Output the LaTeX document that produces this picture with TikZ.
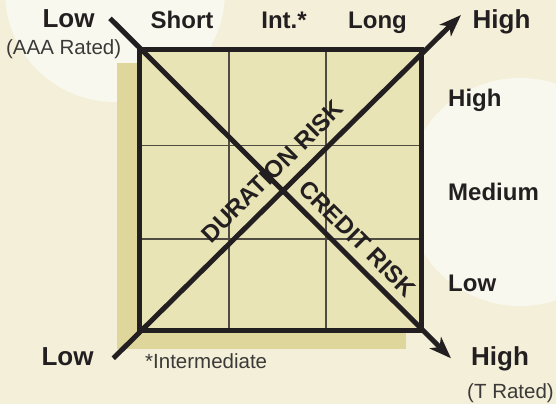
\documentclass[tikz,border=0pt]{standalone}
\usepackage{fontspec}
\setmainfont{Liberation Sans}
\usetikzlibrary{arrows.meta}
\definecolor{bg}{RGB}{243,239,216}
\definecolor{halo}{RGB}{249,248,239}
\definecolor{fillsq}{RGB}{232,228,182}
\definecolor{shadowc}{RGB}{222,214,154}
\definecolor{ink}{RGB}{35,31,32}
\definecolor{gridc}{RGB}{80,76,66}
\definecolor{softink}{RGB}{60,58,56}
\begin{document}
\begin{tikzpicture}[x=1pt,y=-1pt,
  big/.style={font=\fontsize{26}{26}\selectfont\bfseries, text=ink, inner sep=0pt},
  mid/.style={font=\fontsize{24}{24}\selectfont\bfseries, text=ink, inner sep=0pt},
  small/.style={font=\fontsize{20.5}{20.5}\selectfont, text=softink, inner sep=0pt},
  diagtext/.style={font=\fontsize{24}{24}\selectfont\bfseries, text=ink, inner sep=0pt},
  axisline/.style={line width=5pt, draw=ink},
  arr/.style={-{Stealth[length=22pt,width=16pt,inset=6pt]}},
  gridline/.style={draw=gridc, line width=1.3pt}]
\fill[bg] (0,0) rectangle (556,404);
\useasboundingbox (0,0) rectangle (556,404);
\begin{scope}
  \clip (0,0) rectangle (556,404);
  \fill[halo] (115,-8) circle[radius=110];
  \fill[halo] (520,192) circle[radius=114];
\end{scope}
% shadow
\fill[shadowc] (117,63) rectangle (406,349);
% square corners
\coordinate (tl) at (139.5,49.5);
\coordinate (tr) at (421,49.5);
\coordinate (br) at (421,330.5);
\coordinate (bl) at (139.5,330.5);
\fill[fillsq] (tl) rectangle (br);
% grid
\coordinate (v1t) at (229,49.5);  \coordinate (v1b) at (229,330.5);
\coordinate (v2t) at (326,49.5);  \coordinate (v2b) at (326,330.5);
\coordinate (h1l) at (139.5,145.7); \coordinate (h1r) at (421,145.7);
\coordinate (h2l) at (139.5,239);   \coordinate (h2r) at (421,239);
\draw[gridline] (v1t) -- (v1b);
\draw[gridline] (v2t) -- (v2b);
\draw[gridline] (h1l) -- (h1r);
\draw[gridline] (h2l) -- (h2r);
\draw[axisline] (tl) rectangle (br);
% diagonals
\coordinate (dstart) at (113.3,358.3);
\coordinate (dend) at (461,15);
\coordinate (cstart) at (110,18.3);
\coordinate (cend) at (451,358.3);
\draw[axisline, arr] (dstart) -- (dend);
\draw[axisline, arr] (cstart) -- (cend);
% diagonal labels
\node[diagtext, rotate=45] (dur) at (272,171.5) {DURATION RISK};
\node[diagtext, rotate=-45] (cred) at (357.5,238.5) {CREDIT RISK};
% labels
\node[big, anchor=base] (lowtl) at (68.5,27.5) {Low};
\node[small, anchor=base] (aaa) at (63.7,55) {(AAA Rated)};
\node[mid, anchor=base] (short) at (182,28.3) {Short};
\node[mid, anchor=base] (int) at (284,28.3) {Int.*};
\node[mid, anchor=base] (long) at (377.5,28.3) {Long};
\node[big, anchor=base] (hightr) at (501.5,29) {High};
\node[mid, anchor=base west] (rh) at (448,106.7) {High};
\node[mid, anchor=base west] (rm) at (448,200) {Medium};
\node[mid, anchor=base west] (rl) at (448,291.7) {Low};
\node[big, anchor=base] (lowbl) at (67.5,365) {Low};
\node[small, anchor=base west] (inter) at (145,368.3) {*Intermediate};
\node[big, anchor=base] (highbr) at (500,365) {High};
\node[small, anchor=base] (trated) at (510.5,398) {(T Rated)};
\end{tikzpicture}
\end{document}
